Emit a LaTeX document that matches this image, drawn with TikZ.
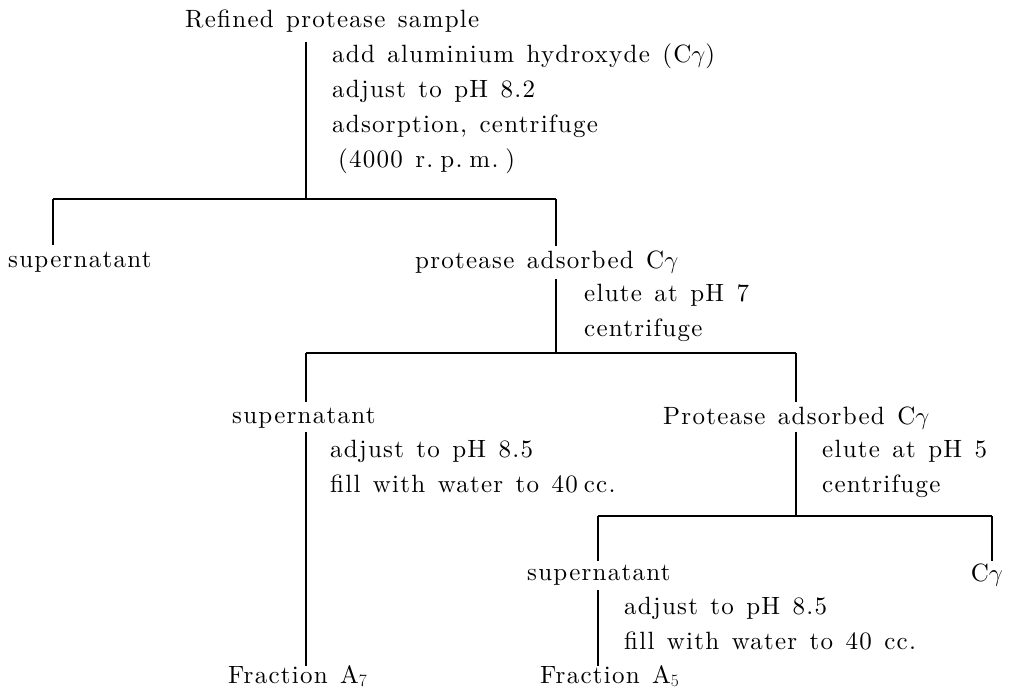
\documentclass[tikz,border=0pt]{standalone}
\usepackage{fontspec}
\setmainfont{lmroman10-regular.otf}[LetterSpace=5,WordSpace=1.3]
\begin{document}
\begin{tikzpicture}[x=1pt,y=-1pt,
  lbl/.style={anchor=west,inner sep=0pt,font=\fontsize{25}{35}\selectfont},
  lblr/.style={anchor=east,inner sep=0pt,font=\fontsize{25}{35}\selectfont},
  stepbox/.style={anchor=north west,inner sep=0pt,align=left,font=\fontsize{25}{35}\selectfont},
  ln/.style={line width=1.4pt}]
\useasboundingbox (0,0) rectangle (1013,693);
% level 0
\node[lbl] (root) at (185,21) {Refined protease sample};
\coordinate (v1top) at (306,42);
\coordinate (h1m) at (306,199);
\coordinate (h1l) at (53,199);
\coordinate (h1r) at (556,199);
\node[stepbox] (s1) at (332,44) {add aluminium hydroxyde (C$\gamma$)\\adjust to pH 8.2\\adsorption, centrifuge\\\hspace*{6pt}(4000 r.\hspace{7pt}p.\hspace{7pt}m.\hspace{7pt})};
\draw[ln] (v1top) -- (h1m);
\draw[ln] (h1l) -- (h1r);
% level 1
\node[lbl] (sup1) at (8,262) {supernatant};
\node[lbl] (pac1) at (415,262) {protease adsorbed C$\gamma$};
\draw[ln] (h1l) -- (h1l |- 0,245);
\draw[ln] (h1r) -- (h1r |- 0,246);
\coordinate (v2top) at (556,279);
\coordinate (h2m) at (556,353);
\coordinate (h2l) at (306,353);
\coordinate (h2r) at (796,353);
\node[stepbox] (s2) at (584,284) {elute at pH 7\\centrifuge};
\draw[ln] (v2top) -- (h2m);
\draw[ln] (h2l) -- (h2r);
% level 2
\draw[ln] (h2l) -- (h2l |- 0,402);
\draw[ln] (h2r) -- (h2r |- 0,402);
\node[lbl] (sup2) at (232,418) {supernatant};
\node[lbl] (pac2) at (663,418) {Protease adsorbed C$\gamma$};
\node[stepbox] (s3) at (330,440) {adjust to pH 8.5\\fill with water to 40\hspace{6pt}cc.};
\node[stepbox] (s4) at (822,440) {elute at pH 5\\centrifuge};
\coordinate (v3top) at (306,432);
\node[lbl] (fa7) at (228,676) {Fraction A$_7$};
\draw[ln] (v3top) -- (v3top |- 0,666);
\coordinate (v4top) at (796,432);
\coordinate (h3m) at (796,516);
\coordinate (h3l) at (598,516);
\coordinate (h3r) at (992,516);
\draw[ln] (v4top) -- (h3m);
\draw[ln] (h3l) -- (h3r);
% level 3
\draw[ln] (h3l) -- (h3l |- 0,561);
\draw[ln] (h3r) -- (h3r |- 0,561);
\node[lbl] (sup3) at (527,575) {supernatant};
\node[lblr] (cg) at (1003,575) {C$\gamma$};
\coordinate (v5top) at (598,590);
\draw[ln] (v5top) -- (v5top |- 0,666);
\node[stepbox] (s5) at (624,597) {adjust to pH 8.5\\fill with water to 40 cc.};
\node[lbl] (fa5) at (540,676) {Fraction A$_5$};
\end{tikzpicture}
\end{document}
